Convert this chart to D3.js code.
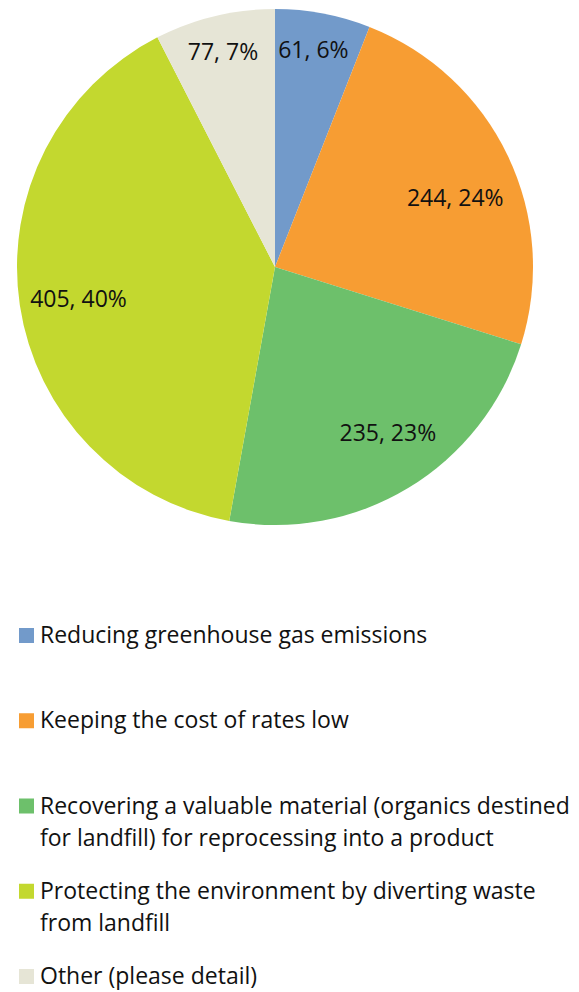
<!DOCTYPE html>
<html>
<head>
<meta charset="utf-8">
<script src="https://cdn.jsdelivr.net/npm/d3@7"></script>
<style>
  html, body { margin: 0; padding: 0; background: #fff; }
  svg { display: block; }
  text { font-family: "Open Sans", "Noto Sans", sans-serif; fill: #111; }
</style>
</head>
<body>
<svg id="chart" width="579" height="992"></svg>
<script>
const categories = [
  "Reducing greenhouse gas emissions",
  "Keeping the cost of rates low",
  "Recovering a valuable material (organics destined\nfor landfill) for reprocessing into a product",
  "Protecting the environment by diverting waste\nfrom landfill",
  "Other (please detail)"
];
const values = [61, 244, 235, 405, 77];
const percents = [6, 24, 23, 40, 7];
const colors = ["#729ACA", "#F79D33", "#6DC06B", "#C3D82F", "#E6E5D6"];

const W = 579, H = 992;
const cx = 275, cy = 267, R = 258;
const svg = d3.select("#chart");

const data = categories.map((c, i) => ({ name: c, value: values[i], pct: percents[i], color: colors[i] }));
const pie = d3.pie().sort(null).value(d => d.value);
const arcs = pie(data);
const arc = d3.arc().innerRadius(0).outerRadius(R);

const g = svg.append("g").attr("transform", `translate(${cx},${cy})`);
g.selectAll("path").data(arcs).enter().append("path")
  .attr("d", arc)
  .attr("fill", d => d.data.color);

// best-fit style label nudges (layout only)
const nudges = [[-3, 0], [1, 16], [10, -5], [0, 2], [0, 0]];
g.selectAll("text.lbl").data(arcs).enter().append("text")
  .attr("class", "lbl")
  .attr("transform", (d, i) => {
    const small = (d.endAngle - d.startAngle) < 0.5;
    const lr = small ? R * 0.86 : R * 0.77;
    const la = d3.arc().innerRadius(lr).outerRadius(lr);
    const [x, y] = la.centroid(d);
    return `translate(${x + nudges[i][0]},${y + nudges[i][1]})`;
  })
  .attr("text-anchor", "middle")
  .attr("dominant-baseline", "central")
  .style("font-size", "23px")
  .text(d => `${d.data.value}, ${d.data.pct}%`);

// Legend
const legY0 = 643, legStep = 85.25, lineH = 32;
const leg = svg.append("g");
data.forEach((d, i) => {
  const by = legY0 + i * legStep;
  leg.append("rect").attr("x", 19).attr("y", by - 15).attr("width", 15).attr("height", 15).attr("fill", d.color);
  const t = leg.append("text").attr("x", 40).attr("y", by).style("font-size", "23px");
  d.name.split("\n").forEach((line, j) => {
    t.append("tspan").attr("x", 40).attr("y", by + j * lineH).text(line);
  });
});
</script>
</body>
</html>
